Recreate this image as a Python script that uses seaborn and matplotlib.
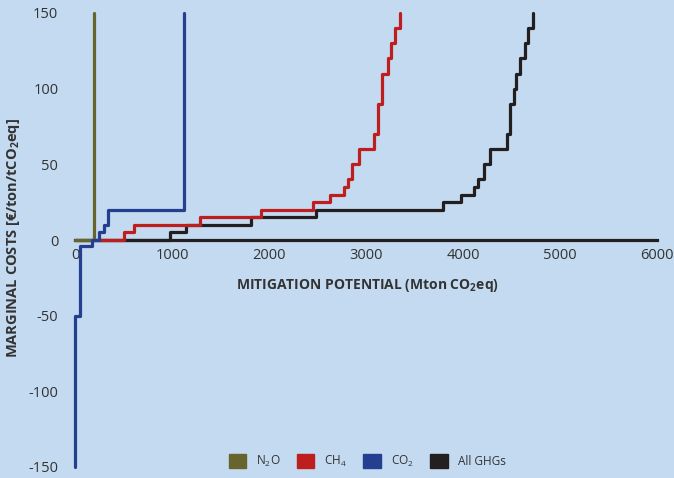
import numpy as np
import pandas as pd
import matplotlib
matplotlib.use("Agg")
import matplotlib.pyplot as plt
from matplotlib.patches import Patch
import seaborn as sns

# ---- data (step MAC curves): cumulative potential where each cost level starts ----
n2o_potential = [0, 200]
n2o_cost = [0, 150]

ch4_potential = [250, 505, 607, 1293, 1920, 2452, 2630, 2771, 2816, 2857, 2932,
                 3086, 3124, 3166, 3227, 3261, 3302, 3347]
ch4_cost = [0, 5, 10, 15, 20, 25, 30, 35, 40, 50, 60, 70, 90, 110, 120, 130, 140, 150]

co2_potential = [0, 0, 51, 180, 250, 300, 336, 1128]
co2_cost = [-150, -50, -4, 0, 5, 10, 20, 150]

all_potential = [0, 977, 1142, 1818, 2486, 3789, 3975, 4112, 4153, 4218, 4277,
                 4458, 4482, 4527, 4544, 4585, 4640, 4674, 4722]
all_cost = [0, 5, 10, 15, 20, 25, 30, 35, 40, 50, 60, 70, 90, 100, 110, 120,
            130, 140, 150]

gas_labels = ["N$_\\mathregular{2}$O", "CH$_\\mathregular{4}$",
              "CO$_\\mathregular{2}$", "All GHGs"]
gas_colors = ["#67652D", "#BE1E1E", "#243F8F", "#231F20"]

x_ticks = [0, 1000, 2000, 3000, 4000, 5000, 6000]
y_ticks = [-150, -100, -50, 0, 50, 100, 150]

frames = []
for lab, xs, ys in zip(gas_labels,
                       [n2o_potential, ch4_potential, co2_potential, all_potential],
                       [n2o_cost, ch4_cost, co2_cost, all_cost]):
    frames.append(pd.DataFrame({"potential": xs, "cost": ys, "gas": lab}))
df = pd.concat(frames, ignore_index=True)

bg = "#C3DAF0"
sns.set_style("white", {"axes.facecolor": bg, "figure.facecolor": bg})
plt.rcParams["font.family"] = ["Open Sans", "DejaVu Sans"]
plt.rcParams["mathtext.default"] = "regular"
text_col = "#333333"

fig = plt.figure(figsize=(6.74, 4.78), dpi=100)
ax = fig.add_axes([75 / 674, 11 / 478, (657 - 75) / 674, (467 - 13) / 478])
ax.set_facecolor(bg)

sns.lineplot(data=df, x="potential", y="cost", hue="gas",
             hue_order=gas_labels, palette=dict(zip(gas_labels, gas_colors)),
             sort=False, estimator=None, drawstyle="steps-post",
             linewidth=2.3, legend=False, ax=ax)
# All GHGs line sits underneath the single-gas curves
for ln, z in zip(ax.lines, [5, 4, 6, 3]):
    ln.set_zorder(z)
    ln.set_clip_on(False)

ax.set_xlim(0, 6000)
ax.set_ylim(-150, 150)
ax.set_xticks(x_ticks)
ax.set_yticks(y_ticks)
ax.set_xticklabels([str(v) for v in x_ticks])
ax.set_yticklabels([str(v) for v in y_ticks])
ax.tick_params(axis="both", length=0, labelsize=10.5, colors=text_col)
ax.tick_params(axis="y", pad=12)
ax.tick_params(axis="x", pad=6)

for s in ["top", "right", "left"]:
    ax.spines[s].set_visible(False)
ax.spines["bottom"].set_position(("data", 0))
ax.spines["bottom"].set_color("#231F20")
ax.spines["bottom"].set_linewidth(2.3)
ax.spines["bottom"].set_zorder(1)

ax.set_xlabel("")
ax.set_ylabel("")
fig.text(367 / 674, 1 - 285 / 478, "MITIGATION POTENTIAL (Mton CO$_\\mathregular{2}$eq)",
         ha="center", va="center", fontsize=10, fontweight="bold", color=text_col)
fig.text(14 / 674, 1 - 238 / 478, "MARGINAL COSTS [€/ton/tCO$_\\mathregular{2}$eq]",
         ha="center", va="center", rotation=90, fontsize=10.5, fontweight="bold",
         color=text_col)

handles = [Patch(facecolor=c, edgecolor=c) for c in gas_colors]
fig.legend(handles, gas_labels, loc="lower center", bbox_to_anchor=(367 / 674, -0.003),
           ncol=4, frameon=False, fontsize=8.5, handlelength=1.5, handleheight=1.5,
           columnspacing=1.35, handletextpad=0.85, labelcolor=text_col)

fig.savefig("out.png", dpi=100, facecolor=bg)
